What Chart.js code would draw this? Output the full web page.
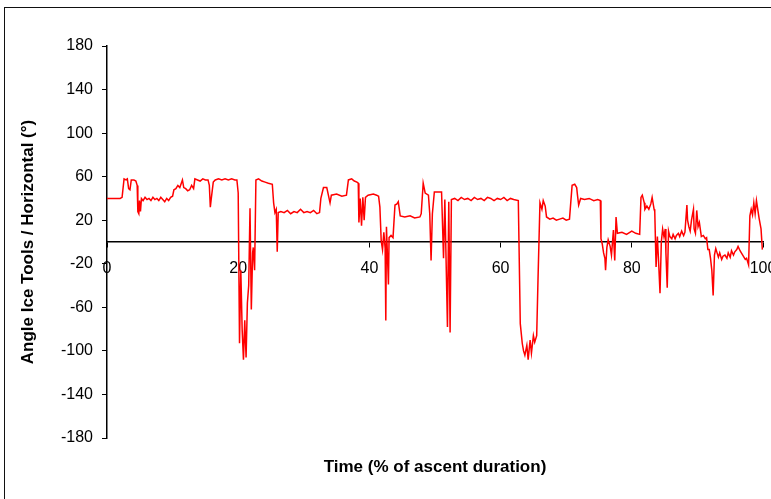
<!DOCTYPE html>
<html>
<head>
<meta charset="utf-8">
<script src="https://cdn.jsdelivr.net/npm/chart.js@4.4.1/dist/chart.umd.min.js"></script>
<style>
  html, body { margin: 0; padding: 0; background: #fff; overflow: hidden; }
  .frame { position: absolute; left: 4px; top: 7px; width: 830px; height: 560px; border: 1.5px solid #111; }
  .wrap { position: absolute; left: 0; top: 0; width: 771px; height: 499px; }
</style>
</head>
<body>
<div class="frame"></div>
<div class="wrap"><canvas id="chart" width="771" height="499"></canvas></div>
<script>
  // time in % of ascent duration
  const timePct = [
    0, 1.0, 2.0, 2.3, 2.6, 2.9, 3.1, 3.3, 3.5, 3.7, 4.1, 4.4, 4.6, 4.7, 4.85, 4.95, 5.1, 5.25, 5.5, 5.8,
    6.1, 6.4, 6.7, 7.0, 7.3, 7.6, 7.9, 8.2, 8.5, 8.8, 9.1, 9.4, 9.7, 10.0, 10.2, 10.5, 10.8, 11.1, 11.5, 11.7,
    12.0, 12.3, 12.6, 12.9, 13.2, 13.4, 13.8, 14.2, 14.6, 15.0, 15.4, 15.6, 15.75, 15.9, 16.2,
    16.5, 17.0, 17.5, 18.0, 18.5, 19.0, 19.5, 19.8, 20.0, 20.2, 20.4, 20.6, 20.8, 21.0, 21.2, 21.4, 21.6, 21.8,
    22.0, 22.2, 22.3, 22.5, 22.7, 23.1, 23.6, 24.1, 24.6, 25.2, 25.4, 25.6, 25.8, 25.95, 26.1, 26.5, 27.0, 27.5,
    28.0, 28.5, 29.0, 29.5, 30.0, 30.5, 31.0, 31.5, 32.0, 32.4, 32.6, 33.0,
    33.5, 34.0, 34.2, 35.0, 35.8, 36.5, 36.8, 37.3, 37.7, 38.1, 38.3, 38.4, 38.6, 38.8, 39.0, 39.2, 39.4, 39.8,
    40.6, 41.1, 41.4, 41.6, 41.8, 42.0, 42.2, 42.4, 42.5, 42.6, 42.9, 43.0, 43.3, 43.6, 43.9, 44.2, 44.4, 44.7,
    45.4, 46.2, 46.9, 47.7, 47.9, 48.2, 48.5, 49.0, 49.2, 49.4, 49.6, 49.9,
    50.5, 51.0, 51.3, 51.5, 51.9, 52.1, 52.3, 52.5, 53.0, 53.5, 54.0, 54.5, 55.0, 55.5, 56.0, 56.5, 57.0, 57.5,
    58.0, 58.5, 59.0, 59.5, 60.0, 60.5, 61.0, 61.5, 62.0, 62.7, 63.0, 63.3, 63.5, 63.7, 64.0, 64.2, 64.5, 64.7,
    65.0, 65.2, 65.5, 65.7, 66.0, 66.3, 66.5, 66.8,
    67.0, 67.5, 68.0, 68.5, 69.0, 69.5, 70.0, 70.5, 70.9, 71.3, 71.6, 71.7, 71.9, 72.2, 72.8, 73.5, 74.2, 74.8,
    75.2, 75.3, 75.5, 75.7, 75.9, 76.0, 76.2, 76.4, 76.7, 76.9, 77.2, 77.3, 77.4, 77.6, 77.8, 78.5, 79.2, 80.0,
    80.6, 81.2, 81.4, 81.6, 81.9, 82.0, 82.3, 82.6, 82.9, 83.1, 83.4, 83.5, 83.7,
    83.9, 84.1, 84.3, 84.5, 84.7, 84.9, 85.1, 85.2, 85.4, 85.6, 85.8, 86.1, 86.3, 86.6, 86.8, 87.1, 87.3, 87.6,
    87.9, 88.1, 88.4, 88.5, 88.7, 88.9, 89.1, 89.4, 89.5, 89.7, 89.9, 90.1, 90.3, 90.6, 90.9, 91.2, 91.4, 91.6,
    91.8, 92.0, 92.2, 92.4, 92.6, 92.8, 93.0, 93.2, 93.4, 93.7, 93.9, 94.2, 94.5, 94.7, 95.0, 95.2, 95.5, 95.7,
    96.0, 96.2, 96.5, 96.7, 97.0, 97.3, 97.5, 97.8, 98.0, 98.2, 98.4, 98.6, 98.8, 99.0, 99.2, 99.4, 99.7, 99.9
  ];

  // angle of the ice tools to the horizontal, degrees
  const angleDeg = [
    40, 40, 40, 41, 58, 57, 58, 49, 48, 57, 57, 56, 52, 28, 26, 38, 28, 40, 38, 41,
    39, 40, 38, 41, 39, 40, 38, 41, 39, 37, 40, 38, 41, 42, 48, 49, 52, 50, 57, 50,
    49, 47, 48, 52, 49, 58, 57, 56, 58, 57, 57, 52, 32, 40, 55,
    57, 58, 57, 58, 57, 58, 57, 57, 45, -93, -26, -80, -108, -72, -106, -56, -40, 31,
    -62, -10, -5, -26, 57, 58, 56, 55, 54, 53, 36, 27, 30, -9, 27, 28, 27, 29,
    26, 28, 27, 30, 27, 28, 27, 29, 26, 27, 40, 50,
    50, 36, 43, 44, 42, 43, 57, 58, 56, 55, 54, 18, 40, 15, 41, 20, 41, 43,
    44, 43, 42, 32, 1, -7, 9, -6, -72, 14, -39, 4, 6, 4, 34, 35, 37, 24,
    23, 24, 22, 23, 26, 54, 45, 43, 26, -17, 26, 46,
    46, 46, -15, 39, -78, 37, -83, 39, 40, 38, 41, 39, 40, 38, 41, 39, 40, 38,
    41, 40, 38, 40, 39, 41, 38, 40, 39, 38, -75, -93, -100, -104, -95, -108, -90, -102,
    -86, -92, -86, -35, 36, 30, 38, 33,
    23, 21, 22, 20, 21, 22, 20, 21, 52, 53, 50, 44, 34, 40, 39, 40, 38, 39,
    38, 3, -2, -10, -15, -26, -5, 2, -4, -12, 11, -5, -17, 23, 8, 9, 7, 10,
    8, 7, 41, 43, 36, 30, 33, 30, 35, 41, 30, 28, -23,
    5, -20, -47, 0, 12, 5, 12, -10, -42, 10, 5, 3, 7, 3, 6, 8, 5, 10,
    6, 9, 34, 20, 14, 10, 20, 30, 12, 8, 29, 14, 18, 5, 6, 3, 4, -7,
    -7, -15, -26, -49, -12, -6, -10, -14, -10, -16, -13, -12, -15, -10, -14, -8, -12, -9,
    -7, -4, -8, -10, -13, -16, -15, -21, 24, 30, 25, 36, 26, 38, 30, 22, 12, -7
  ];

  const yTicks = [-180, -140, -100, -60, -20, 20, 60, 100, 140, 180];
  const xTitle = 'Time (% of ascent duration)';
  const yTitle = 'Angle Ice Tools / Horizontal (°)';

  const FONT = '"Liberation Sans", Arial, sans-serif';

  new Chart(document.getElementById('chart').getContext('2d'), {
    type: 'line',
    data: {
      datasets: [{
        data: timePct.map((t, i) => ({x: t, y: angleDeg[i]})),
        borderColor: '#ff0000',
        borderWidth: 1.5,
        pointRadius: 0,
        tension: 0,
        fill: false,
      }]
    },
    options: {
      responsive: false,
      animation: false,
      layout: {padding: {left: 0, right: 8, top: 46, bottom: 0}},
      plugins: {legend: {display: false}, tooltip: {enabled: false}},
      scales: {
        x: {
          type: 'linear',
          min: 0,
          max: 100,
          position: {y: 0},
          ticks: {stepSize: 20, padding: 12, color: '#000', maxRotation: 0, autoSkip: false,
                  font: {family: FONT, size: 16}},
          grid: {drawOnChartArea: false, drawTicks: true, tickLength: 5, color: '#000'},
          border: {color: '#000', width: 1.5},
          afterFit: s => { s.paddingLeft = 0; s.paddingRight = 0; },
        },
        xTitle: {
          type: 'linear',
          axis: 'x',
          position: 'bottom',
          min: 0,
          max: 100,
          ticks: {display: false},
          grid: {display: false},
          border: {display: false},
          title: {display: true, text: xTitle, color: '#000',
                  font: {family: FONT, size: 17, weight: 'bold'}, padding: {top: 0, bottom: 21}},
          afterFit: s => { s.height = 61; s.paddingLeft = 0; s.paddingRight = 0; },
        },
        y: {
          min: -180,
          max: 180,
          position: 'left',
          afterBuildTicks: s => { s.ticks = yTicks.map(v => ({value: v})); },
          ticks: {padding: 9, color: '#000', font: {family: FONT, size: 16}},
          grid: {drawOnChartArea: false, drawTicks: true, tickLength: 5, color: '#000'},
          border: {color: '#000', width: 1.5},
          title: {display: true, text: yTitle, color: '#000',
                  font: {family: FONT, size: 17, weight: 'bold'}, padding: {top: 18, bottom: 0}},
          afterFit: s => { s.width = 107; s.paddingTop = 0; s.paddingBottom = 0; },
        }
      }
    }
  });
</script>
</body>
</html>
